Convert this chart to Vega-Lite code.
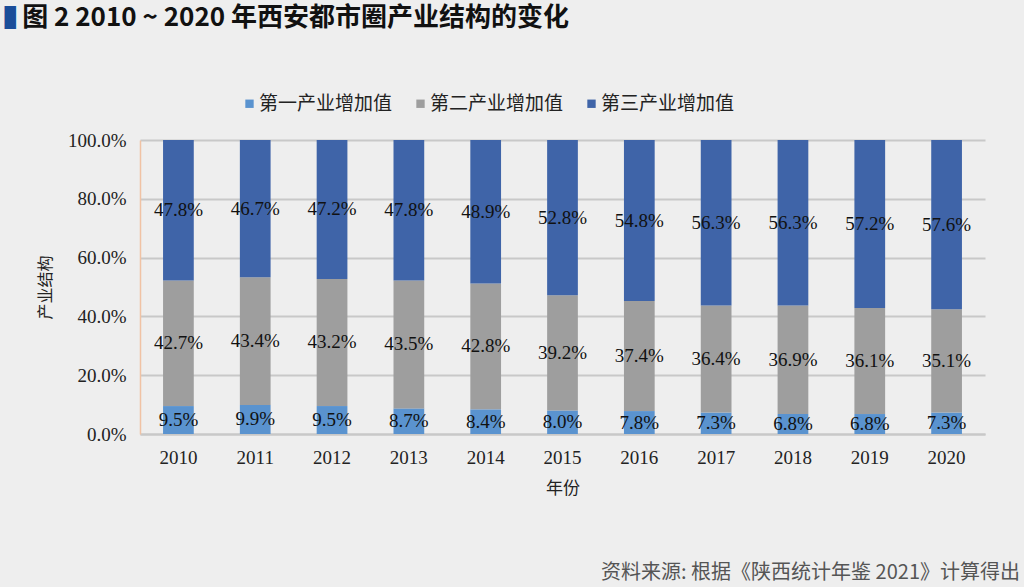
{
  "$schema": "https://vega.github.io/schema/vega-lite/v6.json",
  "background": "#eeeeee",
  "padding": {"left": 4, "right": 4, "top": 5, "bottom": 6},
  "title": {
    "text": "▌",
    "subtitle": "\u200b\u00a0\u00a0\u00a0图 2  2010 ~ 2020 年西安都市圈产业结构的变化",
    "anchor": "start",
    "frame": "bounds",
    "color": "#1a4d99",
    "fontSize": 23,
    "font": "Noto Sans CJK SC",
    "subtitleFont": "Noto Sans CJK SC",
    "subtitleFontSize": 26,
    "subtitleFontWeight": "bold",
    "subtitleColor": "#111111",
    "subtitlePadding": -26,
    "dx": -33,
    "offset": 60
  },
  "vconcat": [
    {
      "width": 845,
      "height": 294,
      "title": {
        "text": "资料来源: 根据《陕西统计年鉴 2021》计算得出",
        "orient": "bottom",
        "anchor": "end",
        "frame": "group",
        "font": "Noto Sans CJK SC",
        "fontSize": 20,
        "fontWeight": "normal",
        "color": "#555555",
        "dx": 35,
        "offset": 67
      },
      "data": {
        "values": [
          {"year": "2010", "type": "第一产业增加值", "k": 1, "v": 0.095},
          {"year": "2010", "type": "第二产业增加值", "k": 2, "v": 0.427},
          {"year": "2010", "type": "第三产业增加值", "k": 3, "v": 0.478},
          {"year": "2011", "type": "第一产业增加值", "k": 1, "v": 0.099},
          {"year": "2011", "type": "第二产业增加值", "k": 2, "v": 0.434},
          {"year": "2011", "type": "第三产业增加值", "k": 3, "v": 0.467},
          {"year": "2012", "type": "第一产业增加值", "k": 1, "v": 0.095},
          {"year": "2012", "type": "第二产业增加值", "k": 2, "v": 0.432},
          {"year": "2012", "type": "第三产业增加值", "k": 3, "v": 0.472},
          {"year": "2013", "type": "第一产业增加值", "k": 1, "v": 0.087},
          {"year": "2013", "type": "第二产业增加值", "k": 2, "v": 0.435},
          {"year": "2013", "type": "第三产业增加值", "k": 3, "v": 0.478},
          {"year": "2014", "type": "第一产业增加值", "k": 1, "v": 0.084},
          {"year": "2014", "type": "第二产业增加值", "k": 2, "v": 0.428},
          {"year": "2014", "type": "第三产业增加值", "k": 3, "v": 0.489},
          {"year": "2015", "type": "第一产业增加值", "k": 1, "v": 0.080},
          {"year": "2015", "type": "第二产业增加值", "k": 2, "v": 0.392},
          {"year": "2015", "type": "第三产业增加值", "k": 3, "v": 0.528},
          {"year": "2016", "type": "第一产业增加值", "k": 1, "v": 0.078},
          {"year": "2016", "type": "第二产业增加值", "k": 2, "v": 0.374},
          {"year": "2016", "type": "第三产业增加值", "k": 3, "v": 0.548},
          {"year": "2017", "type": "第一产业增加值", "k": 1, "v": 0.073},
          {"year": "2017", "type": "第二产业增加值", "k": 2, "v": 0.364},
          {"year": "2017", "type": "第三产业增加值", "k": 3, "v": 0.563},
          {"year": "2018", "type": "第一产业增加值", "k": 1, "v": 0.068},
          {"year": "2018", "type": "第二产业增加值", "k": 2, "v": 0.369},
          {"year": "2018", "type": "第三产业增加值", "k": 3, "v": 0.563},
          {"year": "2019", "type": "第一产业增加值", "k": 1, "v": 0.068},
          {"year": "2019", "type": "第二产业增加值", "k": 2, "v": 0.361},
          {"year": "2019", "type": "第三产业增加值", "k": 3, "v": 0.572},
          {"year": "2020", "type": "第一产业增加值", "k": 1, "v": 0.073},
          {"year": "2020", "type": "第二产业增加值", "k": 2, "v": 0.351},
          {"year": "2020", "type": "第三产业增加值", "k": 3, "v": 0.576}
        ]
      },
      "transform": [
        {"stack": "v", "groupby": ["year"], "sort": [{"field": "k", "order": "ascending"}], "offset": "normalize", "as": ["y0", "y1"]},
        {"calculate": "(datum.y0 + datum.y1) / 2", "as": "ymid"}
      ],
      "encoding": {
        "x": {
          "field": "year",
          "type": "ordinal",
          "scale": {"paddingInner": 0.6, "paddingOuter": 0.3},
          "axis": {
            "title": "年份",
            "titleFont": "Noto Sans CJK SC",
            "titleFontSize": 17,
            "titleFontWeight": "normal",
            "titleColor": "#222222",
            "titlePadding": 13,
            "labelAngle": 0,
            "labelFont": "Liberation Serif",
            "labelFontSize": 19,
            "labelColor": "#222222",
            "labelPadding": 14,
            "ticks": false,
            "domainColor": "#c8c8c8",
            "domainWidth": 2
          }
        }
      },
      "layer": [
        {
          "mark": {"type": "bar"},
          "encoding": {
            "y": {
              "field": "y0",
              "type": "quantitative",
              "scale": {"domain": [0, 1]},
              "axis": {
                "title": "产业结构",
                "titleFont": "Noto Sans CJK SC",
                "titleFontSize": 16,
                "titleFontWeight": "normal",
                "titleColor": "#222222",
                "titlePadding": 14,
                "format": ".1%",
                "values": [0, 0.1, 0.2, 0.3, 0.4, 0.5, 0.6, 0.7, 0.8, 0.9, 1.0],
                "labelOverlap": false,
                "labelFont": "Liberation Serif",
                "labelFontSize": 19,
                "labelColor": "#222222",
                "labelPadding": 14,
                "ticks": false,
                "domainColor": "#f0c2a4",
                "domainWidth": 1.5,
                "gridColor": "#c8c8c8",
                "gridWidth": 2
              }
            },
            "y2": {"field": "y1"},
            "color": {
              "field": "type",
              "type": "nominal",
              "scale": {
                "domain": ["第一产业增加值", "第二产业增加值", "第三产业增加值"],
                "range": ["#5a93cf", "#9e9e9e", "#3f64a8"]
              },
              "legend": {
                "title": null,
                "orient": "none",
                "legendX": 100,
                "legendY": -46,
                "direction": "horizontal",
                "symbolType": "square",
                "symbolSize": 70,
                "symbolStrokeWidth": 0,
                "labelFont": "Noto Sans CJK SC",
                "labelFontSize": 19,
                "labelColor": "#222222",
                "labelOffset": 0,
                "columnPadding": 18,
                "labelLimit": 300
              }
            }
          }
        },
        {
          "mark": {"type": "text", "font": "Liberation Serif", "fontSize": 19, "color": "#111111", "baseline": "middle"},
          "encoding": {
            "y": {"field": "ymid", "type": "quantitative"},
            "text": {"field": "v", "type": "quantitative", "format": ".1%"}
          }
        }
      ]
    }
  ],
  "config": {"view": {"stroke": null}}
}
